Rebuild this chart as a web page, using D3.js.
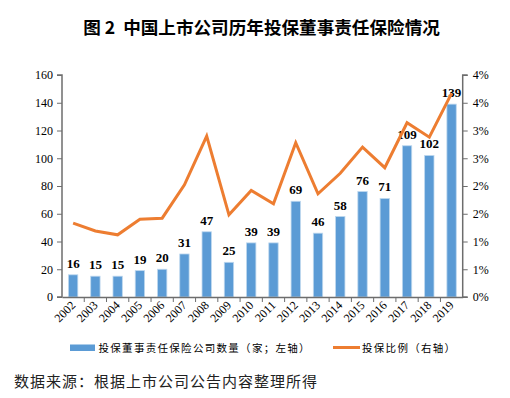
<!DOCTYPE html>
<html>
<head>
<meta charset="utf-8">
<script src="https://cdn.jsdelivr.net/npm/d3@7"></script>
<style>
html,body{margin:0;padding:0;background:#fff;}
svg{display:block;}
</style>
</head>
<body>
<svg id="chart" width="510" height="398"></svg>
<script>
const years = ["2002","2003","2004","2005","2006","2007","2008","2009","2010","2011","2012","2013","2014","2015","2016","2017","2018","2019"];
const companies = [16,15,15,19,20,31,47,25,39,39,69,46,58,76,71,109,102,139];
const ratio = [0.0133,0.0119,0.0112,0.0140,0.0142,0.0202,0.0290,0.0148,0.0192,0.0168,0.0278,0.0186,0.0223,0.0270,0.0233,0.0314,0.0288,0.0367];
const leftTicks = [0,20,40,60,80,100,120,140,160];
const rightTicks = [0,0.005,0.01,0.015,0.02,0.025,0.03,0.035,0.04];
const rightTickLabels = ["0%","1%","1%","2%","2%","3%","3%","4%","4%"];
const title = "图 2  中国上市公司历年投保董事责任保险情况";
const legendBar = "投保董事责任保险公司数量（家；左轴）";
const legendLine = "投保比例（右轴）";
const source = "数据来源：根据上市公司公告内容整理所得";

const svg = d3.select("#chart");
const L = 62, R = 462.7, T = 75, B = 297;
const serif = "'Liberation Serif','Times New Roman',serif";
const cjk = "'Noto Sans CJK SC','Noto Sans',sans-serif";
const axisColor = "#6d6d6d";

const x = d3.scaleBand().domain(years).range([L, R]).paddingInner(0.58).paddingOuter(0.29);
const xEdge = d3.scaleBand().domain(years).range([L, R]).padding(0);
const yL = d3.scaleLinear().domain([0,160]).range([B, T]);
const yR = d3.scaleLinear().domain([0,0.04]).range([B, T]);

// title
svg.append("text").attr("x", 261.5).attr("y", 34).attr("text-anchor","middle")
  .attr("font-family", cjk).attr("font-weight", 700).attr("font-size", 17.6).attr("fill","#000")
  .attr("xml:space","preserve").style("white-space","pre")
  .text(title);

// bars
svg.append("g").selectAll("rect").data(years).join("rect")
  .attr("x", d => x(d)).attr("width", x.bandwidth())
  .attr("y", (d,i) => yL(companies[i])).attr("height", (d,i) => B - yL(companies[i]))
  .attr("fill", "#5b9bd5").attr("stroke", "#bdd7ee").attr("stroke-width", 0.8);

// bar value labels
svg.append("g").selectAll("text").data(years).join("text")
  .attr("x", d => x(d) + x.bandwidth()/2)
  .attr("y", (d,i) => yL(companies[i]) - 7)
  .attr("text-anchor","middle").attr("font-family", serif).attr("font-weight", 700)
  .attr("font-size", 13).attr("fill","#000")
  .text((d,i) => companies[i]);

// line
const line = d3.line().x(d => x(d[0]) + x.bandwidth()/2).y(d => yR(d[1]));
svg.append("path").datum(years.map((y,i) => [y, ratio[i]]))
  .attr("d", line).attr("fill","none").attr("stroke","#ed7d31").attr("stroke-width", 3)
  .attr("stroke-linejoin","miter");

// left axis
const gL = svg.append("g").attr("transform", `translate(${L},0)`)
  .call(d3.axisLeft(yL).tickValues(leftTicks).tickSize(5).tickPadding(4));
// right axis
const gR = svg.append("g").attr("transform", `translate(${R},0)`)
  .call(d3.axisRight(yR).tickValues(rightTicks).tickFormat((d,i) => rightTickLabels[i]).tickSize(5).tickPadding(5));
// bottom axis
const gB = svg.append("g").attr("transform", `translate(0,${B})`)
  .call(d3.axisBottom(xEdge).tickValues(years).tickSize(0).tickFormat(""));
gB.selectAll(".tick").remove();
gB.append("g").selectAll("line").data(years.slice(1)).join("line")
  .attr("x1", d => xEdge(d)).attr("x2", d => xEdge(d)).attr("y1", 0).attr("y2", 5)
  .attr("stroke", axisColor).attr("stroke-width", 1);

[gL, gR, gB].forEach(g => {
  g.selectAll(".domain").attr("stroke", axisColor).attr("stroke-width", 1.5);
  g.selectAll(".tick line").attr("stroke", axisColor).attr("stroke-width", 1);
  g.selectAll(".tick text").attr("font-family", serif).attr("font-size", 12).attr("fill", "#000");
});
gL.select(".domain").attr("d", `M-5,${T}H0V${B}H-5`);
gR.select(".domain").attr("d", `M5,${T}H0V${B}H5`);

// x labels rotated
svg.append("g").selectAll("text").data(years).join("text")
  .attr("transform", d => `translate(${x(d) + x.bandwidth()/2 + 3},${B + 9}) rotate(-45)`)
  .attr("text-anchor","end").attr("font-family", serif).attr("font-size", 12).attr("fill","#000")
  .text(d => d);

// legend
svg.append("rect").attr("x", 70).attr("y", 344.5).attr("width", 25).attr("height", 6.5).attr("fill","#5b9bd5");
svg.append("text").attr("x", 98.5).attr("y", 351.5).attr("font-family", cjk).attr("font-size", 10.5)
  .attr("letter-spacing", 1.3).attr("fill","#000").text(legendBar);
svg.append("line").attr("x1", 333).attr("x2", 360).attr("y1", 347.5).attr("y2", 347.5)
  .attr("stroke","#ed7d31").attr("stroke-width", 3);
svg.append("text").attr("x", 362).attr("y", 351.5).attr("font-family", cjk).attr("font-size", 10.5)
  .attr("letter-spacing", 1.3).attr("fill","#000").text(legendLine);

// source
svg.append("text").attr("x", 14).attr("y", 386.5).attr("font-family", cjk).attr("font-size", 15)
  .attr("letter-spacing", 1).attr("fill","#222").text(source);
</script>
</body>
</html>
